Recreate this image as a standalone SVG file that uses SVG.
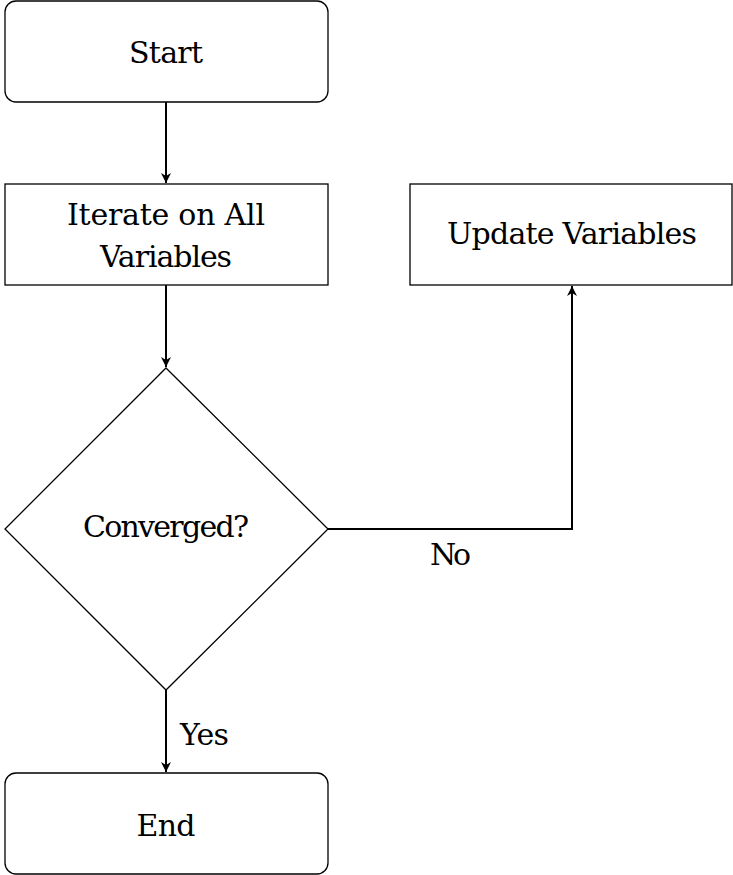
<svg xmlns="http://www.w3.org/2000/svg" width="733" height="875" viewBox="0 0 733 875">
<style>
.n{fill:#fff;stroke:#000;stroke-width:1.3}
.t{font-family:'DejaVu Serif',serif;font-size:30px;fill:#000;text-anchor:middle}
.l{font-family:'DejaVu Serif',serif;font-size:30px;fill:#000}
.c{fill:none;stroke:#000;stroke-width:2}
</style>
<defs>
<marker id="a" viewBox="0 0 10 10" refX="10" refY="5" markerWidth="5" markerHeight="5" orient="auto" markerUnits="strokeWidth">
<path d="M0,0 L10,5 L0,10 L3,5 Z" fill="#000"/>
</marker>
</defs>
<rect width="733" height="875" fill="#fff"/>
<g id="connectors">
<line class="c" x1="166" y1="102" x2="166" y2="183" marker-end="url(#a)"/>
<line class="c" x1="166" y1="285" x2="166" y2="367" marker-end="url(#a)"/>
<polyline class="c" points="328,529 572,529 572,286" marker-end="url(#a)"/>
<line class="c" x1="166" y1="690" x2="166" y2="772" marker-end="url(#a)"/>
<text class="l" x="430" y="565" textLength="41">No</text>
<text class="l" x="180" y="745" textLength="49">Yes</text>
</g>
<g id="start">
<rect class="n" x="5" y="1" width="323" height="101" rx="11"/>
<text class="t" x="166" y="63" textLength="74">Start</text>
</g>
<g id="iterate">
<rect class="n" x="5" y="184" width="323" height="101"/>
<text class="t" x="166" y="225" textLength="198">Iterate on All</text>
<text class="t" x="166" y="267" textLength="132">Variables</text>
</g>
<g id="update">
<rect class="n" x="410" y="184" width="322" height="101"/>
<text class="t" x="572" y="244" textLength="250">Update Variables</text>
</g>
<g id="converged">
<polygon class="n" points="166,368 328,529 166,690 5,529"/>
<text class="t" x="166" y="537" textLength="166">Converged?</text>
</g>
<g id="end">
<rect class="n" x="5" y="773" width="323" height="101" rx="11"/>
<text class="t" x="166" y="836" textLength="59">End</text>
</g>
</svg>
